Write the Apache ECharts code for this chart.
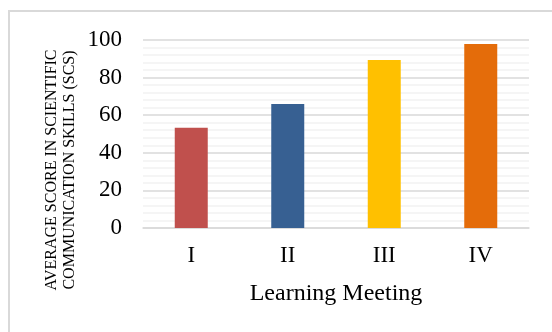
<!DOCTYPE html>
<html>
<head>
<meta charset="utf-8">
<script src="https://cdn.jsdelivr.net/npm/echarts@6/dist/echarts.min.js"></script>
<style>html,body{margin:0;padding:0;background:#fff}#c{width:552px;height:332px}</style>
</head>
<body>
<div id="c"></div>
<script>
const categories = ['I', 'II', 'III', 'IV'];
const values = [53.3, 66, 89.4, 97.9];
const barColors = ['#C0504D', '#376092', '#FFC000', '#E46C0A'];
const yTicks = [0, 20, 40, 60, 80, 100];
const xTitle = 'Learning Meeting';
const yTitle = ['AVERAGE SCORE IN SCIENTIFIC', 'COMMUNICATION SKILLS (SCS)'];

const chart = echarts.init(document.getElementById('c'), null, {renderer: 'canvas'});
const serif = '"Liberation Serif", "Times New Roman", serif';
chart.setOption({
  animation: false,
  backgroundColor: '#fff',
  grid: {left: 143, right: 23, top: 40, bottom: 104, containLabel: false},
  xAxis: {
    type: 'category',
    data: categories,
    axisTick: {show: false},
    axisLine: {lineStyle: {color: '#d9d9d9', width: 1.5}},
    axisLabel: {fontFamily: serif, fontSize: 23, color: '#000', margin: 16},
    name: xTitle,
    nameLocation: 'middle',
    nameGap: 54,
    nameTextStyle: {fontFamily: serif, fontSize: 24, color: '#000'}
  },
  yAxis: {
    type: 'value',
    min: yTicks[0],
    max: yTicks[yTicks.length - 1],
    interval: 20,
    axisLine: {show: false},
    axisTick: {show: false},
    axisLabel: {fontFamily: serif, fontSize: 23, color: '#000', margin: 21},
    splitLine: {lineStyle: {color: '#d9d9d9', width: 1.5}},
    minorTick: {show: false, splitNumber: 5},
    minorSplitLine: {show: true, lineStyle: {color: '#f2f2f2', width: 1.5}}
  },
  series: [{
    type: 'bar',
    barWidth: 33,
    data: values.map((v, i) => ({value: v, itemStyle: {color: barColors[i]}}))
  }],
  graphic: [
    {type: 'rect', shape: {x: 9, y: 11, width: 700, height: 500}, style: {fill: 'none', stroke: '#d9d9d9', lineWidth: 2}, silent: true},
    {type: 'text', x: 61, y: 170, rotation: Math.PI / 2,
      style: {text: yTitle.join('\n'), fontFamily: serif, fontSize: 16, lineHeight: 18, fill: '#000', align: 'center', verticalAlign: 'middle'}}
  ]
});
</script>
</body>
</html>
